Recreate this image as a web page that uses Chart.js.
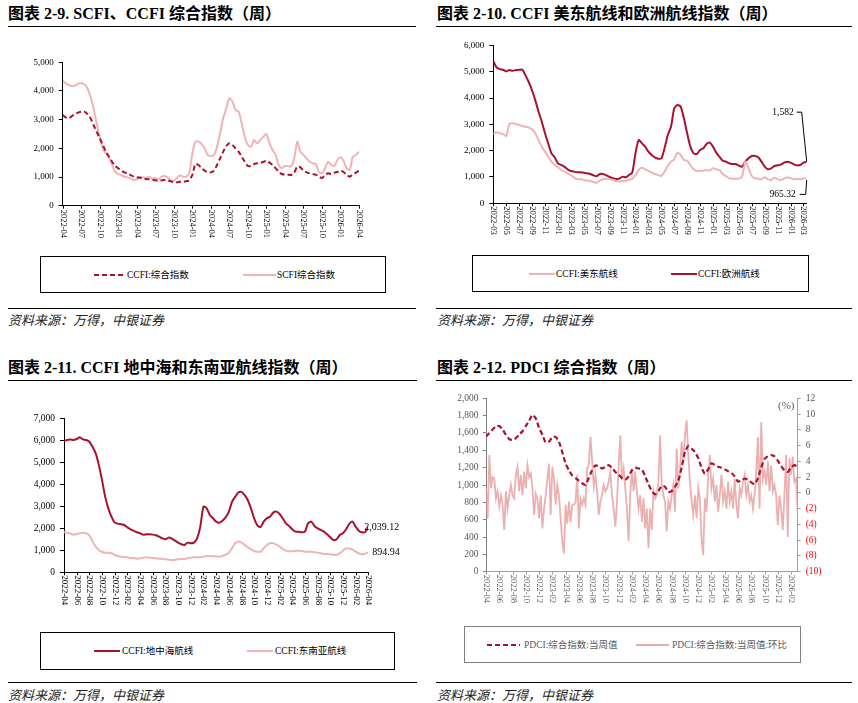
<!DOCTYPE html>
<html>
<head>
<meta charset="utf-8">
<script src="https://cdn.jsdelivr.net/npm/chart.js@4.4.1/dist/chart.umd.min.js"></script>
<style>
body { margin:0; width:858px; height:703px; background:#fff; position:relative; overflow:hidden; font-family:"Liberation Serif","Noto Sans CJK SC",serif; color:#000; }
.t { position:absolute; font-weight:bold; font-size:16px; white-space:nowrap; line-height:16px; }
.rule { position:absolute; height:0; border-top:1.5px solid #000; }
.src { position:absolute; font-style:italic; font-size:13px; line-height:13px; color:#222; font-family:"Noto Sans CJK SC",sans-serif; white-space:nowrap; }
.lg { position:absolute; border:1px solid #000; box-sizing:border-box; }
.it { position:absolute; font-size:9.5px; line-height:10px; white-space:nowrap; }
.cv { position:absolute; }
svg { position:absolute; overflow:visible; }
</style>
</head>
<body>

<div class="t" style="left:8px;top:6px">图表 2-9. SCFI、CCFI 综合指数（周）</div>
<div class="rule" style="left:8px;top:26px;width:408px"></div>
<canvas id="c1" class="cv" width="430" height="210" style="left:0;top:40px"></canvas>
<div class="lg" style="left:40px;top:256px;width:346px;height:37px"></div>
<svg style="left:94px;top:275px" width="32" height="2"><line x1="0" y1="0" x2="32" y2="0" stroke="#A8122E" stroke-width="2" stroke-dasharray="5,3"/></svg>
<div class="it" style="left:127px;top:270px">CCFI:综合指数</div>
<svg style="left:243px;top:275px" width="33" height="2"><line x1="0" y1="0" x2="33" y2="0" stroke="#F0B4B4" stroke-width="2"/></svg>
<div class="it" style="left:277px;top:270px">SCFI综合指数</div>
<div class="rule" style="left:8px;top:308px;width:408px"></div>
<div class="src" style="left:8px;top:313px">资料来源：万得，中银证券</div>

<div class="t" style="left:437px;top:6px">图表 2-10. CCFI 美东航线和欧洲航线指数（周）</div>
<div class="rule" style="left:436px;top:26px;width:416px"></div>
<canvas id="c2" class="cv" width="428" height="215" style="left:430px;top:35px"></canvas>
<div class="lg" style="left:472px;top:255px;width:337px;height:37px"></div>
<svg style="left:529px;top:274px" width="26" height="2"><line x1="0" y1="0" x2="26" y2="0" stroke="#F0B4B4" stroke-width="2"/></svg>
<div class="it" style="left:556px;top:269px">CCFI:美东航线</div>
<svg style="left:671px;top:274px" width="26" height="2"><line x1="0" y1="0" x2="26" y2="0" stroke="#A8122E" stroke-width="2"/></svg>
<div class="it" style="left:698px;top:269px">CCFI:欧洲航线</div>
<div class="rule" style="left:436px;top:308px;width:416px"></div>
<div class="src" style="left:437px;top:313px">资料来源：万得，中银证券</div>

<div class="t" style="left:8px;top:360px">图表 2-11. CCFI 地中海和东南亚航线指数（周）</div>
<div class="rule" style="left:8px;top:380px;width:409px"></div>
<canvas id="c3" class="cv" width="430" height="230" style="left:0;top:395px"></canvas>
<div class="lg" style="left:40px;top:632px;width:355px;height:38px"></div>
<svg style="left:94px;top:651px" width="26" height="2"><line x1="0" y1="0" x2="26" y2="0" stroke="#A8122E" stroke-width="2"/></svg>
<div class="it" style="left:122px;top:646px">CCFI:地中海航线</div>
<svg style="left:247px;top:651px" width="26" height="2"><line x1="0" y1="0" x2="26" y2="0" stroke="#F0B4B4" stroke-width="2"/></svg>
<div class="it" style="left:275px;top:646px">CCFI:东南亚航线</div>
<div class="rule" style="left:8px;top:682px;width:409px"></div>
<div class="src" style="left:8px;top:688px">资料来源：万得，中银证券</div>

<div class="t" style="left:437px;top:360px">图表 2-12. PDCI 综合指数（周）</div>
<div class="rule" style="left:436px;top:380px;width:416px"></div>
<canvas id="c4" class="cv" width="428" height="230" style="left:430px;top:385px"></canvas>
<div class="it" style="left:778px;top:400px;font-size:11px;color:#595959">(%)</div>
<div class="lg" style="left:464px;top:626px;width:337px;height:37px;border-color:#808080"></div>
<svg style="left:487px;top:645px" width="33" height="2"><line x1="0" y1="0" x2="33" y2="0" stroke="#A8122E" stroke-width="2" stroke-dasharray="5,3"/></svg>
<div class="it" style="left:524px;top:640px;color:#595959">PDCI:综合指数:当周值</div>
<svg style="left:636px;top:645px" width="33" height="2"><line x1="0" y1="0" x2="33" y2="0" stroke="#EBAAAA" stroke-width="2"/></svg>
<div class="it" style="left:672px;top:640px;color:#595959">PDCI:综合指数:当周值:环比</div>
<div class="rule" style="left:436px;top:682px;width:416px"></div>
<div class="src" style="left:437px;top:688px">资料来源：万得，中银证券</div>

<script>
// half-month steps unless noted
var xLabels1 = ['2022-04','2022-07','2022-10','2023-01','2023-04','2023-07','2023-10','2024-01','2024-04','2024-07','2024-10','2025-01','2025-04','2025-07','2025-10','2026-01','2026-04'];
var ccfi = [3163,3082,3047,3128,3198,3245,3280,3280,3198,3047,
  2814,2582,2349,2117,1884,1710,1535,1384,1303,1221,
  1163,1128,1070,1012,989,977,954,930,919,907,
  884,872,884,896,884,849,814,814,837,849,
  849,896,1070,1454,1419,1303,1221,1163,1163,1221,
  1419,1651,1884,2082,2175,2117,2000,1884,1710,1535,
  1384,1384,1454,1477,1500,1523,1570,1500,1419,1303,
  1186,1105,1082,1082,1070,1151,1361,1338,1221,1163,
  1128,1105,1082,1012,965,1070,1128,1105,1151,1175,
  1221,1175,1070,1012,1082,1151,1221];
var scfi = [4361,4268,4210,4175,4187,4257,4268,4233,4094,3803,
  3396,2873,2407,1977,1826,1686,1419,1186,1105,1058,
  1012,989,942,896,919,1012,989,965,1012,942,
  965,919,1012,1035,989,896,872,965,1058,1012,
  1012,1128,1826,2233,2233,2152,2000,1768,1733,1768,
  2058,2524,3047,3396,3745,3629,3338,3280,2873,2407,
  2117,2058,2291,2175,2291,2407,2500,2175,1942,1768,
  1419,1303,1384,1384,1361,1651,2233,1884,1768,1651,
  1535,1477,1454,1186,1128,1303,1535,1419,1384,1593,
  1686,1570,1303,1244,1710,1768,1884];

var xLabels2 = ['2022-03','2022-05','2022-07','2022-09','2022-11','2023-01','2023-03','2023-05','2023-07','2023-09','2023-11','2024-01','2024-03','2024-05','2024-07','2024-09','2024-11','2025-01','2025-03','2025-05','2025-07','2025-09','2025-11','2026-01','2026-03'];
var usEast = [2633,2697,2659,2633,2557,3013,3038,3013,2975,2937,
  2912,2874,2810,2659,2405,2152,1962,1772,1582,1456,
  1367,1266,1203,1139,1076,975,911,924,886,861,
  848,810,785,861,911,937,911,886,848,823,
  848,848,886,937,1076,1266,1355,1291,1228,1165,
  1114,1076,1038,1203,1418,1582,1671,1924,1836,1646,
  1620,1456,1291,1228,1241,1241,1266,1241,1329,1291,
  1266,1114,1038,950,937,937,937,1013,1582,1329,
  1038,950,937,911,987,911,886,975,911,886,
  937,987,950,911,924,924,937,965.32];
var europe = [5412,5162,5100,5075,5012,5062,5037,5062,5075,5075,
  4850,4600,4287,3912,3481,3101,2659,2279,1899,1747,
  1519,1456,1393,1291,1228,1203,1177,1177,1165,1139,
  1114,1063,1025,1114,1114,1063,1000,950,924,937,
  1013,987,1076,1165,1899,2405,2279,2152,1962,1836,
  1747,1696,1709,2089,2595,2912,3608,3735,3671,3228,
  2659,2152,1899,1874,2026,2089,2253,2304,2152,1924,
  1772,1620,1582,1519,1494,1494,1430,1393,1582,1709,
  1798,1798,1747,1582,1393,1291,1329,1418,1443,1469,
  1544,1582,1544,1481,1443,1456,1544,1582];

var xLabels3 = ['2022-04','2022-06','2022-08','2022-10','2022-12','2023-02','2023-04','2023-06','2023-08','2023-10','2023-12','2024-02','2024-04','2024-06','2024-08','2024-10','2024-12','2025-02','2025-04','2025-06','2025-08','2025-10','2025-12','2026-02','2026-04'];
var med = [5982,6012,6042,6012,6058,6133,6042,6012,5936,5708,
  5404,4872,4188,3428,2896,2516,2258,2212,2182,2151,
  2045,1954,1879,1818,1773,1712,1727,1727,1712,1682,
  1621,1545,1500,1576,1530,1439,1348,1273,1242,1348,
  1318,1348,1545,2076,2985,2909,2606,2454,2303,2257,
  2348,2500,2744,3200,3428,3626,3656,3504,3276,2896,
  2440,2136,2060,2303,2454,2530,2712,2757,2651,2454,
  2227,2106,1954,1848,1848,1818,1848,2227,2303,2106,
  2000,1924,1848,1727,1591,1470,1500,1697,1773,1954,
  2197,2303,2076,1894,1818,1833,2039.12];
var seAsia = [1833,1803,1757,1712,1742,1773,1803,1773,1682,1394,
  1167,1015,924,894,894,864,788,742,712,697,
  682,651,651,621,636,667,682,667,651,636,
  621,606,591,576,561,561,591,606,606,636,
  667,682,682,682,712,742,742,727,727,712,
  742,788,894,1091,1318,1394,1348,1242,1136,1045,
  970,939,939,1091,1242,1318,1318,1257,1167,1060,
  985,955,955,970,985,970,939,939,939,909,
  894,864,833,833,818,803,788,864,985,1091,
  1076,1045,939,864,818,848,894.94];

var xLabels4 = ['2022-04','2022-06','2022-08','2022-10','2022-12','2023-02','2023-04','2023-06','2023-08','2023-10','2023-12','2024-02','2024-04','2024-06','2024-08','2024-10','2024-12','2025-02','2025-04','2025-06','2025-08','2025-10','2025-12','2026-02'];
var pdci = [1558,1600,1640,1680,1680,1640,1580,1530,1520,1540,
  1580,1620,1680,1740,1810,1770,1660,1580,1490,1500,
  1550,1555,1500,1380,1250,1170,1110,1080,1050,1020,
  1000,1080,1170,1225,1215,1190,1210,1230,1200,1150,
  1120,1080,1060,1100,1170,1200,1190,1180,1100,1010,
  930,892,930,990,980,920,930,980,1050,1200,
  1380,1450,1420,1380,1310,1200,1130,1180,1250,1230,
  1210,1200,1180,1160,1140,1100,1040,1050,1075,1060,
  1030,1010,1080,1200,1300,1330,1345,1330,1280,1220,
  1170,1150,1200,1230,1210];
// weekly (quarter-month steps)
var pdciWow = [0.6,-3.2,4.8,0.6,2.0,1.8,-0.7,0.2,-1.7,-0.3,
  -1.5,-4.7,0.2,-2.0,-0.3,1.0,-0.3,-0.7,2.3,3.3,
  0.2,2.3,-0.3,2.7,0.6,3.5,2.0,2.5,0.6,-2.8,
  -0.1,-0.7,-3.2,-0.3,-4.5,-2.0,-0.3,1.8,3.7,-2.8,
  3.3,1.8,-1.5,1.0,-0.3,-3.2,-6.2,-7.7,-1.5,-3.9,
  -1.1,-3.7,-1.5,-1.5,-1.3,2.3,-4.5,-0.7,-1.5,-0.7,
  -1.5,3.1,3.5,7.1,4.0,0.8,2.3,0.2,-2.8,-1.1,
  -0.3,1.0,0.2,0.6,1.4,2.7,-0.3,-2.0,-4.3,-1.1,
  3.5,7.3,1.6,3.1,0.6,-2.0,-6.1,-0.3,3.1,0.2,
  2.7,0.2,-2.0,-0.3,-3.7,-0.7,-4.5,-2.0,-7.0,-2.0,
  -4.7,0.2,-0.7,-0.3,1.4,7.3,1.0,-0.3,-1.1,-4.9,
  -1.1,-2.0,-0.3,1.0,-2.4,5.6,0.6,2.7,6.5,4.0,
  7.3,9.2,4.8,1.4,-1.1,-2.8,-0.3,-3.2,0.6,-0.7,
  -5.8,-7.9,-0.7,-2.4,2.3,4.8,0.6,1.8,-1.1,1.0,
  -2.4,-0.3,2.3,-1.1,0.2,-2.0,1.4,-1.1,0.2,-2.0,
  1.8,-1.5,-3.2,0.6,-0.3,1.4,2.3,-0.3,1.0,-1.1,
  -0.3,-2.0,-0.3,2.7,7.1,-2.0,9.0,1.8,2.7,1.0,
  4.0,0.2,3.5,0.2,1.0,-0.3,-4.1,-0.3,-2.0,-4.7,
  -0.3,4.8,-5.6,4.4,2.3,4.6,1.4,1.8,-2.4];

var DARK = '#A8122E';
var PINK = '#F0B4B4';
var SERIF = 'Liberation Serif';

function pts(vals, step) {
    return vals.map(function(v, i) { return {x: i * step, y: v}; });
}

// x tick labels read top to bottom, so draw them by hand
var xLabelPlugin = {
    id: 'xlab',
    afterDraw: function(chart, args, o) {
        var ctx = chart.ctx, xs = chart.scales.x, a = chart.chartArea;
        ctx.save();
        ctx.strokeStyle = o.axis;
        ctx.lineWidth = 1;
        ctx.fillStyle = o.color;
        ctx.font = o.size + 'px "' + SERIF + '"';
        o.labels.forEach(function(lab, i) {
            var x = Math.round(xs.getPixelForValue(i * o.step)) + 0.5;
            ctx.beginPath();
            ctx.moveTo(x, a.bottom);
            ctx.lineTo(x, a.bottom + 3);
            ctx.stroke();
            ctx.save();
            ctx.translate(x, a.bottom + o.gap);
            ctx.rotate(Math.PI / 2);
            ctx.textAlign = 'left';
            ctx.textBaseline = 'middle';
            ctx.fillText(lab, 0, 0.5);
            ctx.restore();
        });
        ctx.restore();
    }
};

function yAxis(min, max, step, size, width, color, axisColor, pos, pad) {
    return {
        type: 'linear', position: pos || 'left', min: min, max: max,
        afterFit: function(s) { s.width = width; },
        grid: { display: true, drawOnChartArea: false, drawTicks: true, tickLength: 4, color: axisColor },
        border: { display: true, color: axisColor, width: 1 },
        ticks: {
            stepSize: step, padding: pad || 5, color: color,
            font: { family: SERIF, size: size },
            callback: function(v) { return v.toLocaleString('en-US'); }
        }
    };
}

function xAxis(max, axisColor) {
    return {
        type: 'linear', min: 0, max: max,
        afterFit: function(s) { s.height = 0; },
        grid: { display: false },
        border: { display: true, color: axisColor, width: 1 },
        ticks: { display: false }
    };
}

function line(label, data, color, width, dash, tension) {
    return {
        label: label, data: data, borderColor: color, backgroundColor: color,
        borderWidth: width, borderDash: dash || [], pointRadius: 0,
        tension: tension === undefined ? 0.25 : tension, fill: false
    };
}

function baseOptions(pad, scales, xlab) {
    return {
        responsive: false, animation: false,
        layout: { padding: pad },
        plugins: { legend: { display: false }, tooltip: { enabled: false }, xlab: xlab },
        scales: scales
    };
}

// 2-9
new Chart(document.getElementById('c1'), {
    type: 'line',
    data: { datasets: [
        line('CCFI:综合指数', pts(ccfi, 0.5), DARK, 2, [5, 3]),
        line('SCFI综合指数', pts(scfi, 0.5), PINK, 2)
    ]},
    options: baseOptions({ top: 22.3, right: 71, bottom: 44.3, left: 0 }, {
        x: xAxis(48, '#000'),
        y: yAxis(0, 5000, 1000, 9, 62.7, '#000', '#000')
    }, { labels: xLabels1, step: 3, gap: 4, size: 8.5, color: '#000', axis: '#000' }),
    plugins: [xLabelPlugin]
});

// 2-10
var endLabels2 = {
    id: 'endlab2',
    afterDraw: function(chart) {
        var ctx = chart.ctx, xs = chart.scales.x, ys = chart.scales.y;
        var n = europe.length - 1;
        var px = xs.getPixelForValue(n * 0.5);
        var pe = ys.getPixelForValue(europe[n]);
        var pu = ys.getPixelForValue(usEast[n]);
        ctx.save();
        ctx.font = '9.5px "' + SERIF + '"';
        ctx.fillStyle = '#000';
        ctx.strokeStyle = '#000';
        ctx.lineWidth = 1;
        ctx.textBaseline = 'middle';
        ctx.textAlign = 'right';
        var y1 = pe - 49.5, y2 = pu + 16.5;
        ctx.fillText('1,582', px - 13, y1);
        ctx.fillText('965.32', px - 11, y2);
        ctx.beginPath();
        ctx.moveTo(px - 10, y1); ctx.lineTo(px - 5, y1); ctx.lineTo(px, pe);
        ctx.moveTo(px - 7, y2); ctx.lineTo(px - 1, y2); ctx.lineTo(px, pu + 2);
        ctx.stroke();
        ctx.restore();
    }
};
new Chart(document.getElementById('c2'), {
    type: 'line',
    data: { datasets: [
        line('CCFI:美东航线', pts(usEast, 0.5), PINK, 2),
        line('CCFI:欧洲航线', pts(europe, 0.5), DARK, 2)
    ]},
    options: baseOptions({ top: 9.3, right: 51.3, bottom: 46.7, left: 0 }, {
        x: xAxis(48.5, '#000'),
        y: yAxis(0, 6000, 1000, 9, 63.3, '#000', '#000')
    }, { labels: xLabels2, step: 2, gap: 3, size: 8.5, color: '#000', axis: '#000' }),
    plugins: [xLabelPlugin, endLabels2]
});

// 2-11
var endLabels3 = {
    id: 'endlab3',
    afterDraw: function(chart) {
        var ctx = chart.ctx, xs = chart.scales.x, ys = chart.scales.y;
        var n = med.length - 1;
        var px = xs.getPixelForValue(n * 0.5);
        ctx.save();
        ctx.font = '10px "' + SERIF + '"';
        ctx.fillStyle = '#000';
        ctx.textBaseline = 'middle';
        ctx.textAlign = 'left';
        ctx.fillText(med[n].toLocaleString('en-US', { minimumFractionDigits: 2 }), px - 4, ys.getPixelForValue(med[n]));
        ctx.fillText(seAsia[n].toFixed(2), px + 4, ys.getPixelForValue(seAsia[n]));
        ctx.restore();
    }
};
new Chart(document.getElementById('c3'), {
    type: 'line',
    data: { datasets: [
        line('CCFI:地中海航线', pts(med, 0.5), DARK, 2),
        line('CCFI:东南亚航线', pts(seAsia, 0.5), PINK, 2)
    ]},
    options: baseOptions({ top: 23.3, right: 61.7, bottom: 52.7, left: 0 }, {
        x: xAxis(48, '#000'),
        y: yAxis(0, 7000, 1000, 9.5, 64, '#000', '#000')
    }, { labels: xLabels3, step: 2, gap: 3, size: 9, color: '#000', axis: '#000' }),
    plugins: [xLabelPlugin, endLabels3]
});

// 2-12
var y2 = yAxis(-10, 12, 2, 9.5, 60.3, '#595959', '#A0A0A0', 'right', 5);
y2.grid.tickLength = 3;
y2.ticks.color = function(c) { return c.tick.value < 0 ? '#FF0000' : '#595959'; };
y2.ticks.callback = function(v) { return v < 0 ? '(' + (-v) + ')' : String(v); };
var y1 = yAxis(0, 2000, 200, 9.5, 56, '#595959', '#808080', 'left', 4.5);
y1.grid.tickLength = 3;
new Chart(document.getElementById('c4'), {
    type: 'line',
    data: { datasets: [
        line('PDCI:综合指数:当周值', pts(pdci, 0.5), DARK, 2.2, [5, 3], 0.2),
        Object.assign(line('PDCI:综合指数:当周值:环比', pts(pdciWow, 0.25), 'rgba(228,150,150,0.75)', 1.8, [], 0), { yAxisID: 'y2' })
    ]},
    options: baseOptions({ top: 13.3, right: 0, bottom: 43.3, left: 0 }, {
        x: xAxis(47, '#A0A0A0'),
        y: y1,
        y2: y2
    }, { labels: xLabels4, step: 2, gap: 3, size: 8.5, color: '#595959', axis: '#A0A0A0' }),
    plugins: [xLabelPlugin]
});
</script>
</body>
</html>
